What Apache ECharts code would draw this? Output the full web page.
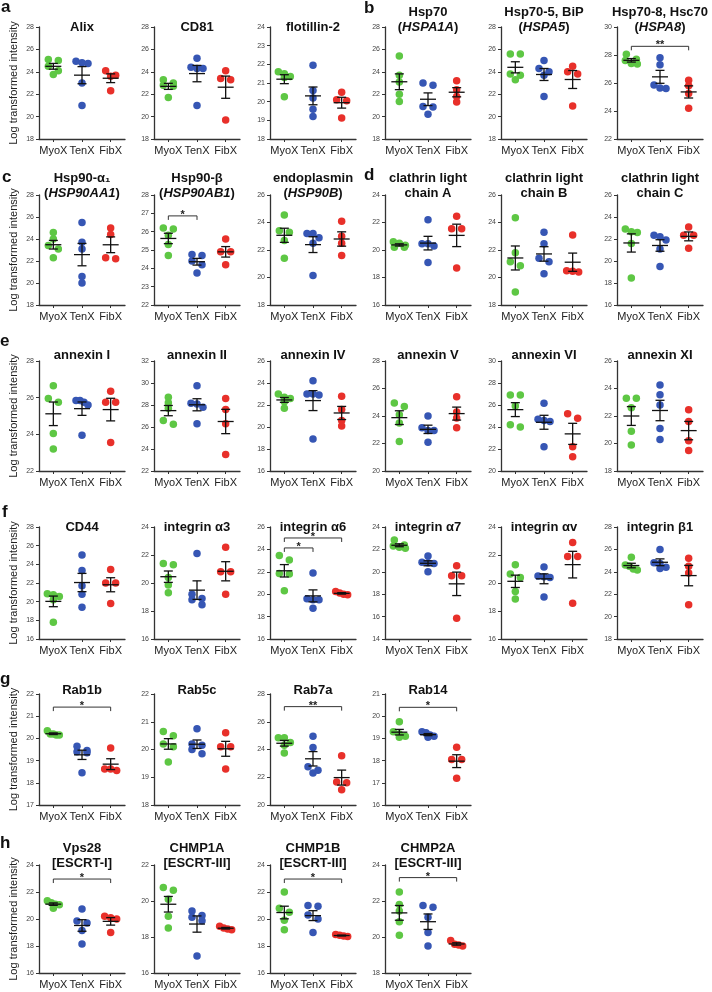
<!DOCTYPE html>
<html lang="en">
<head>
<meta charset="UTF-8">
<title>EV protein markers - log transformed intensity</title>
<script src="https://cdn.jsdelivr.net/npm/echarts@6/dist/echarts.min.js"></script>
<style>
  html, body { margin: 0; padding: 0; background: #fff; }
  #chart { width: 712px; height: 992px; }
</style>
</head>
<body>
<div id="chart"></div>
<script>
// ---- data ----
var groups = ['MyoX', 'TenX', 'FibX'];

var panelTitles = [
  'Alix', 'CD81', 'flotillin-2',
  'Hsp70\n({i|HSPA1A})', 'Hsp70-5, BiP\n({i|HSPA5})', 'Hsp70-8, Hsc70\n({i|HSPA8})',
  'Hsp90-α₁\n({i|HSP90AA1})', 'Hsp90-β\n({i|HSP90AB1})', 'endoplasmin\n({i|HSP90B})',
  'clathrin light\nchain A', 'clathrin light\nchain B', 'clathrin light\nchain C',
  'annexin I', 'annexin II', 'annexin IV', 'annexin V', 'annexin VI', 'annexin XI',
  'CD44', 'integrin α3', 'integrin α6', 'integrin α7', 'integrin αv', 'integrin β1',
  'Rab1b', 'Rab5c', 'Rab7a', 'Rab14',
  'Vps28\n[ESCRT-I]', 'CHMP1A\n[ESCRT-III]', 'CHMP1B\n[ESCRT-III]', 'CHMP2A\n[ESCRT-III]'
];

var yMin  = [18, 18, 18, 18, 18, 22,  18, 22, 18, 16, 18, 16,  22, 22, 16, 20, 20, 18,  16, 16, 16, 14, 16, 18,  17, 18, 20, 16,  16, 16, 16, 18];
var yMax  = [28, 28, 24, 28, 28, 30,  28, 28, 26, 24, 26, 26,  28, 32, 26, 28, 30, 26,  28, 24, 26, 24, 24, 28,  22, 22, 28, 21,  24, 22, 24, 24];
var yStep = [2, 2, 1, 2, 2, 2,  2, 1, 2, 2, 2, 2,  2, 2, 2, 2, 2, 2,  2, 2, 2, 2, 2, 2,  1, 1, 2, 1,  2, 2, 2, 2];

var myoX = [
  [25.0, 25.1, 24.5, 24.1, 23.75], [23.3, 23.0, 22.8, 22.7, 21.7], [21.6, 21.5, 21.35, 21.3, 20.27],
  [25.4, 23.7, 23.1, 22.0, 21.35], [25.6, 25.6, 23.8, 23.3, 23.7], [28.05, 27.7, 27.6, 27.4, 27.35],
  [24.6, 24.0, 23.4, 23.1, 22.3], [26.2, 26.15, 25.8, 25.3, 24.7], [24.55, 23.4, 23.3, 22.7, 21.4],
  [20.6, 20.5, 20.35, 20.2, 20.2], [24.35, 21.8, 21.15, 20.85, 18.95], [22.9, 22.65, 22.6, 21.6, 18.45],
  [26.65, 25.95, 25.75, 24.05, 23.2], [28.7, 28.2, 27.7, 26.6, 26.25], [23.0, 22.7, 22.6, 22.3, 21.7],
  [24.7, 24.95, 24.1, 23.5, 22.15], [26.9, 26.9, 25.9, 24.0, 24.2], [23.3, 23.3, 22.6, 20.9, 19.9],
  [20.85, 20.75, 20.55, 20.2, 17.8], [21.3, 21.4, 20.4, 19.3, 19.85], [23.05, 23.45, 21.85, 21.8, 20.3],
  [22.85, 22.4, 22.3, 22.2, 22.1], [21.3, 20.65, 20.4, 19.4, 18.85], [25.3, 24.6, 24.5, 24.25, 24.15],
  [20.35, 20.2, 20.2, 20.15, 20.15], [20.5, 20.65, 20.2, 20.1, 19.55], [24.85, 24.85, 24.5, 24.3, 23.75], [19.75, 19.3, 19.2, 19.1, 19.05],
  [21.35, 21.2, 21.1, 21.05, 20.8], [20.75, 20.6, 20.1, 19.15, 18.5], [22.0, 20.8, 20.5, 19.9, 19.2], [22.5, 21.8, 21.45, 20.85, 20.1]
];

var tenX = [
  [24.95, 24.75, 24.8, 23.0, 21.0], [25.2, 24.3, 24.4, 24.3, 21.0], [21.95, 20.6, 20.2, 19.6, 19.2],
  [23.0, 22.8, 20.9, 20.85, 20.2], [25.0, 24.3, 24.0, 23.7, 21.8], [27.8, 27.3, 25.85, 25.65, 25.6],
  [25.5, 23.7, 23.1, 20.6, 20.0], [24.75, 24.7, 24.4, 24.2, 23.75], [23.2, 23.2, 22.9, 22.5, 20.15],
  [22.2, 20.45, 20.45, 20.3, 19.1], [23.3, 22.45, 21.4, 21.15, 20.27], [22.35, 22.2, 21.9, 21.1, 19.5],
  [25.85, 25.85, 25.75, 25.6, 23.95], [29.75, 28.1, 28.15, 27.8, 26.3], [24.2, 23.0, 22.9, 23.0, 18.9],
  [24.0, 22.95, 22.95, 23.15, 22.1], [26.15, 24.7, 24.6, 24.5, 22.2], [24.25, 23.55, 22.8, 21.1, 20.3],
  [25.0, 23.35, 21.7, 20.8, 19.4], [22.1, 19.2, 18.9, 18.8, 18.45], [21.9, 19.6, 19.5, 19.5, 18.75],
  [21.4, 20.85, 20.8, 20.75, 20.0], [21.15, 20.5, 20.45, 20.4, 19.0], [26.0, 24.8, 24.75, 24.4, 24.3],
  [19.65, 19.45, 19.4, 19.35, 18.45], [20.75, 20.2, 20.15, 20.0, 19.85], [24.95, 24.15, 22.75, 22.5, 22.3], [19.3, 19.25, 19.15, 19.1, 19.05],
  [20.75, 19.85, 19.7, 19.15, 18.15], [19.45, 19.2, 19.1, 18.9, 16.95], [21.0, 20.95, 20.3, 20.0, 19.0], [21.75, 21.65, 21.1, 20.25, 19.5]
];

var fibX = [
  [23.6, 23.7, 24.1, 22.3], [23.4, 23.3, 24.1, 19.7], [20.5, 20.1, 20.05, 19.13],
  [23.2, 22.4, 21.3, 21.8], [24.5, 24.0, 23.8, 20.95], [26.2, 25.8, 25.25, 24.2],
  [25.0, 24.4, 22.3, 22.2], [25.6, 24.9, 24.9, 24.2], [24.1, 23.0, 22.5, 21.6],
  [22.45, 21.55, 21.55, 18.7], [23.1, 20.5, 20.45, 20.4], [23.1, 22.35, 22.35, 21.15],
  [26.35, 25.75, 25.75, 23.55], [28.6, 27.6, 26.3, 23.5], [22.8, 21.6, 20.6, 20.1],
  [25.4, 24.3, 23.85, 23.15], [24.8, 25.2, 22.2, 21.3], [22.45, 21.6, 20.2, 19.5],
  [23.45, 22.0, 22.0, 19.8], [22.55, 20.8, 20.8, 19.2], [20.25, 20.1, 20.0, 19.95],
  [20.55, 19.65, 19.65, 15.85], [22.9, 21.9, 21.9, 18.55], [25.2, 24.5, 23.9, 21.05],
  [19.57, 18.62, 18.62, 18.55], [20.6, 20.1, 20.1, 19.3], [23.55, 21.65, 21.6, 21.1], [18.6, 18.05, 18.05, 17.2],
  [20.2, 20.1, 20.0, 19.0], [18.6, 18.5, 18.45, 18.4], [18.85, 18.8, 18.75, 18.7], [19.8, 19.6, 19.55, 19.5]
];

// significance brackets
var sigPanel = [5, 7, 20, 20, 24, 26, 27, 28, 30, 31];
var sigFrom  = [0, 0, 0, 0, 0, 0, 0, 0, 0, 0];
var sigTo    = [2, 1, 1, 2, 2, 2, 2, 2, 2, 2];
var sigY     = [28.62, 26.86, 24.13, 25.02, 21.41, 27.09, 20.4, 22.96, 22.96, 23.3];
var sigLabel = ['**', '*', '*', '*', '*', '**', '*', '*', '*', '*'];

var panelLetters = ['a', 'b', 'c', 'd', 'e', 'f', 'g', 'h'];

// ---- layout ----
var FONT = '"Liberation Sans", Arial, Helvetica, sans-serif';
var dotColors = ['#5ec744', '#3656b4', '#e8302a'];
var rowTop = [27, 195, 361, 527, 694, 865];
var rowBottom = [139, 305, 471, 639, 805, 973];
var rowTitle = [27.5, 193, 355, 527, 690, 863];
var colLeft = [39, 154, 270, 385, 501, 617];
var plotW = 86;
var letterPos = [[1, -1], [364, -0.5], [2, 168.5], [364, 167], [0, 333], [2, 503.5], [0, 670.5], [0, 835]];

function panelBox(i) {
  var row, col;
  if (i < 24) { row = Math.floor(i / 6); col = i % 6; }
  else { row = 4 + Math.floor((i - 24) / 4); col = (i - 24) % 4; }
  return { row: row, col: col, left: colLeft[col], top: rowTop[row], height: rowBottom[row] - rowTop[row] };
}

function meanSem(v) {
  var n = v.length, m = 0, ss = 0;
  v.forEach(function (x) { m += x; });
  m /= n;
  v.forEach(function (x) { ss += (x - m) * (x - m); });
  return [m, Math.sqrt(ss / (n - 1)) / Math.sqrt(n)];
}

// points that nearly coincide are set side by side, like a dot plot
function spread(vals, pxPerUnit) {
  var idx = vals.map(function (v, k) { return k; }).sort(function (a, b) { return vals[b] - vals[a]; });
  var offs = vals.map(function () { return 0; });
  var k = 0;
  while (k < idx.length) {
    var bin = [idx[k]], j = k + 1;
    while (j < idx.length && (vals[idx[k]] - vals[idx[j]]) * pxPerUnit < 5.5) { bin.push(idx[j]); j++; }
    var n = bin.length, step = n === 2 ? 10 : (n > 2 ? 12 / (n - 1) : 0);
    bin.forEach(function (d, b) { offs[d] = (b - (n - 1) / 2) * step; });
    k = j;
  }
  return offs;
}

var grids = [], xAxes = [], yAxes = [], series = [], titles = [];
var axisColor = '#333';

for (var i = 0; i < panelTitles.length; i++) {
  var b = panelBox(i);
  grids.push({ left: b.left, top: b.top, width: plotW, height: b.height, containLabel: false, outerBoundsMode: 'none' });
  xAxes.push({
    gridIndex: i, type: 'category', data: groups, boundaryGap: true,
    axisLine: { show: true, lineStyle: { color: axisColor, width: 1.3 } },
    axisTick: { show: true, alignWithLabel: true, length: 3, lineStyle: { color: axisColor, width: 1 } },
    axisLabel: { interval: 0, fontSize: 11, color: '#222', margin: 6, fontFamily: FONT },
    splitLine: { show: false }
  });
  yAxes.push({
    gridIndex: i, type: 'value', min: yMin[i], max: yMax[i], interval: yStep[i],
    axisLine: { show: true, lineStyle: { color: axisColor, width: 1.3 } },
    axisTick: { show: true, length: 3, lineStyle: { color: axisColor, width: 1 } },
    axisLabel: { fontSize: 7, color: '#444', margin: 5, fontFamily: FONT },
    splitLine: { show: false },
    name: b.col === 0 ? 'Log transformed intensity' : '',
    nameLocation: 'middle', nameGap: 20,
    nameTextStyle: { fontSize: 11, color: '#222', fontFamily: FONT }
  });

  var pxPerUnit = b.height / (yMax[i] - yMin[i]);
  var sets = [myoX[i], tenX[i], fibX[i]];
  var pts = [], stats = [];
  sets.forEach(function (vals, g) {
    var offs = spread(vals, pxPerUnit);
    vals.forEach(function (v, k) {
      pts.push({ value: [g, v], symbolOffset: [offs[k], 0], itemStyle: { color: dotColors[g], opacity: 1 } });
    });
    var ms = meanSem(vals);
    stats.push([g, ms[0], ms[1]]);
  });

  series.push({
    type: 'scatter', xAxisIndex: i, yAxisIndex: i, symbolSize: 7.5, silent: true, z: 2,
    itemStyle: { opacity: 1 },
    data: pts
  });
  series.push({
    type: 'custom', xAxisIndex: i, yAxisIndex: i, silent: true, z: 3, clip: false,
    encode: { x: 0, y: 1 },
    data: stats,
    renderItem: function (params, api) {
      var c = api.value(0), m = api.value(1), s = api.value(2);
      var p = api.coord([c, m]), hi = api.coord([c, m + s]), lo = api.coord([c, m - s]);
      var st = { stroke: '#111', lineWidth: 1.3 };
      return {
        type: 'group', children: [
          { type: 'line', shape: { x1: p[0] - 8, y1: p[1], x2: p[0] + 8, y2: p[1] }, style: st },
          { type: 'line', shape: { x1: p[0], y1: hi[1], x2: p[0], y2: lo[1] }, style: st },
          { type: 'line', shape: { x1: p[0] - 4.5, y1: hi[1], x2: p[0] + 4.5, y2: hi[1] }, style: st },
          { type: 'line', shape: { x1: p[0] - 4.5, y1: lo[1], x2: p[0] + 4.5, y2: lo[1] }, style: st }
        ]
      };
    }
  });

  var nLines = panelTitles[i].split('\n').length;
  titles.push({
    text: panelTitles[i], left: b.left + plotW / 2, top: rowTitle[b.row] - 7.5 - 15 * (nLines - 1),
    textAlign: 'center', padding: 0,
    textStyle: {
      fontSize: 13, fontWeight: 'bold', color: '#111', lineHeight: 15, fontFamily: FONT,
      rich: { i: { fontSize: 13, fontWeight: 'bold', fontStyle: 'italic', color: '#111', lineHeight: 15, fontFamily: FONT } }
    }
  });
}

sigPanel.forEach(function (p, k) {
  series.push({
    type: 'custom', xAxisIndex: p, yAxisIndex: p, silent: true, z: 3, clip: false,
    encode: { x: [0, 2], y: 1 },
    data: [[sigFrom[k], sigY[k], sigTo[k]]],
    renderItem: function (params, api) {
      var a = api.coord([api.value(0), api.value(1)]);
      var c = api.coord([api.value(2), api.value(1)]);
      var st = { stroke: '#333', lineWidth: 1 };
      return {
        type: 'group', children: [
          { type: 'line', shape: { x1: a[0], y1: a[1], x2: c[0], y2: c[1] }, style: st },
          { type: 'line', shape: { x1: a[0], y1: a[1], x2: a[0], y2: a[1] + 4 }, style: st },
          { type: 'line', shape: { x1: c[0], y1: c[1], x2: c[0], y2: c[1] + 4 }, style: st },
          { type: 'text', x: (a[0] + c[0]) / 2, y: a[1] - 1,
            style: { text: sigLabel[k], fill: '#222', font: 'bold 11px ' + FONT, textAlign: 'center', textVerticalAlign: 'middle' } }
        ]
      };
    }
  });
});

panelLetters.forEach(function (t, k) {
  titles.push({
    text: t, left: letterPos[k][0], top: letterPos[k][1], padding: 0,
    textStyle: { fontSize: 17, fontWeight: 'bold', color: '#111', lineHeight: 17, fontFamily: FONT }
  });
});

var chart = echarts.init(document.getElementById('chart'));
chart.setOption({
  animation: false,
  backgroundColor: '#fff',
  title: titles,
  grid: grids,
  xAxis: xAxes,
  yAxis: yAxes,
  series: series
});
</script>
</body>
</html>
